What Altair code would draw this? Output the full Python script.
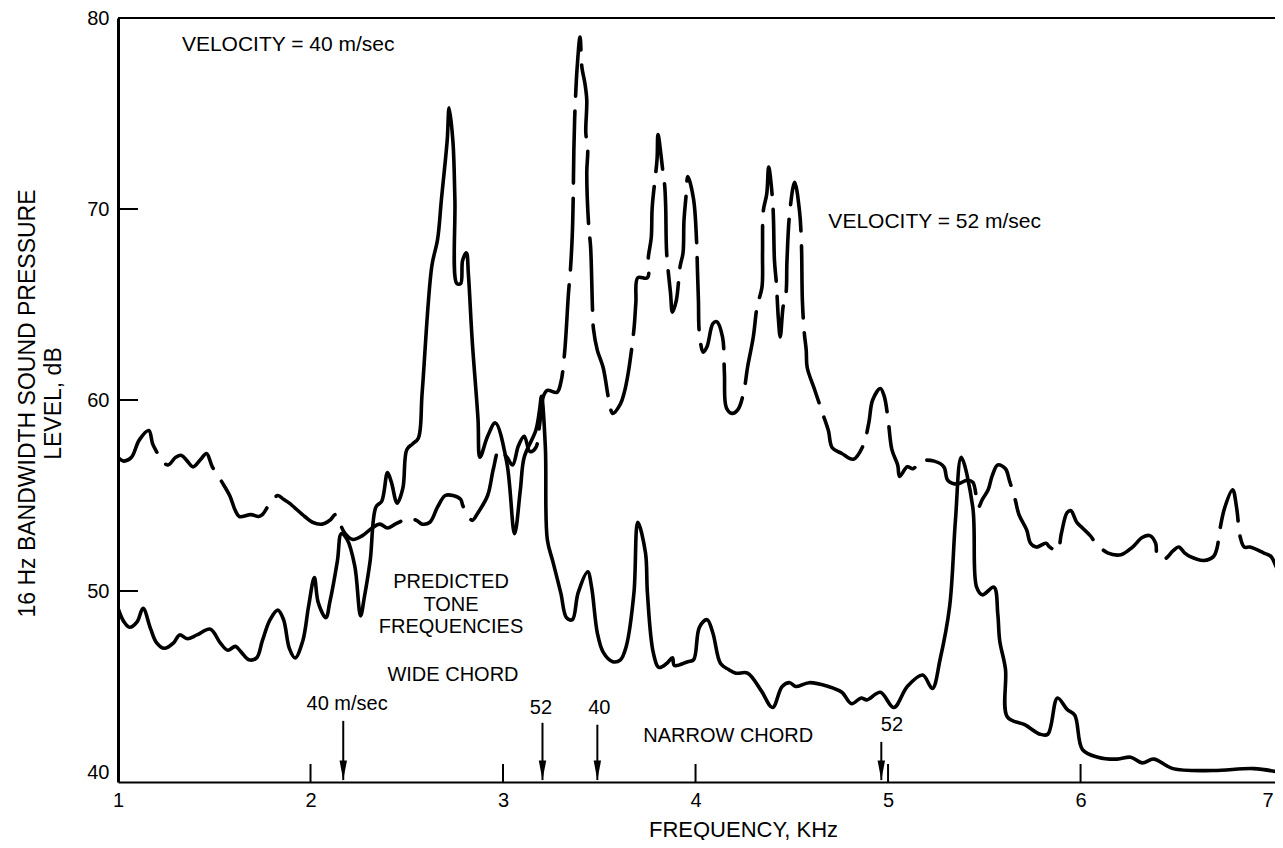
import altair as alt
import pandas as pd

FONT = "Liberation Sans"
W, H = 1157, 764
XMAX = 7.01

# ---- 40 m/sec spectrum (solid) ----
solid_khz = [
    1.00, 1.03, 1.06, 1.10, 1.13, 1.17, 1.20, 1.24, 1.29, 1.32,
    1.36, 1.41, 1.48, 1.53, 1.57, 1.61, 1.64, 1.68, 1.72, 1.75,
    1.79, 1.83, 1.86, 1.89, 1.92, 1.96, 1.99, 2.02, 2.04, 2.08,
    2.10, 2.14, 2.16, 2.19, 2.23, 2.26, 2.28, 2.31, 2.34, 2.37,
    2.40, 2.42, 2.45, 2.48, 2.50, 2.53, 2.56, 2.58, 2.63, 2.66,
    2.68, 2.71, 2.72, 2.74, 2.75, 2.76, 2.78, 2.79, 2.81, 2.82,
    2.84, 2.87, 2.88, 2.92, 2.96, 3.02, 3.06, 3.09, 3.11, 3.17,
    3.19, 3.20, 3.22, 3.23, 3.26, 3.30, 3.33, 3.36, 3.39, 3.44,
    3.46, 3.49, 3.52, 3.57, 3.61, 3.64, 3.68, 3.70, 3.74, 3.75,
    3.78, 3.81, 3.85, 3.88, 3.89, 3.96, 3.99, 4.02, 4.06, 4.09,
    4.13, 4.17, 4.21, 4.27, 4.34, 4.40, 4.45, 4.49, 4.52, 4.59,
    4.69, 4.76, 4.81, 4.86, 4.89, 4.96, 5.03, 5.10, 5.18, 5.23,
    5.27, 5.32, 5.35, 5.38, 5.44, 5.46, 5.49, 5.55, 5.57, 5.58,
    5.61, 5.62, 5.71, 5.79, 5.83, 5.88, 5.93, 5.97, 6.01, 6.09,
    6.19, 6.26, 6.32, 6.38, 6.48, 6.69, 6.90, 7.04,
]
solid_db = [
    49.1, 48.4, 48.1, 48.4, 49.1, 48.0, 47.3, 47.0, 47.3, 47.7,
    47.5, 47.7, 48.0, 47.3, 46.9, 47.1, 46.8, 46.4, 46.5, 47.4,
    48.5, 49.0, 48.5, 47.0, 46.5, 47.4, 49.2, 50.7, 49.4, 48.6,
    49.4, 51.6, 53.0, 52.7, 51.3, 48.7, 49.7, 51.6, 54.4, 54.7,
    56.2, 55.7, 54.6, 55.4, 57.4, 57.7, 58.0, 60.4, 67.0, 68.4,
    70.5, 73.6, 75.3, 73.5, 70.5, 66.1, 66.1, 67.3, 67.7, 66.6,
    63.1, 59.0, 57.0, 58.1, 58.8, 56.7, 53.0, 55.3, 57.0, 58.4,
    59.5, 60.2, 57.5, 52.7, 51.5, 49.9, 48.6, 48.5, 49.9, 51.0,
    50.2, 47.8, 46.8, 46.3, 46.4, 47.1, 49.9, 53.6, 52.0, 49.9,
    46.8, 46.0, 46.2, 46.5, 46.1, 46.3, 46.4, 48.1, 48.5, 47.8,
    46.2, 45.9, 45.7, 45.7, 44.8, 43.9, 45.0, 45.2, 45.0, 45.2,
    45.0, 44.7, 44.1, 44.4, 44.3, 44.7, 43.9, 45.0, 45.6, 44.9,
    46.4, 49.2, 53.7, 57.0, 54.4, 50.2, 49.8, 50.2, 48.8, 47.4,
    45.9, 43.4, 43.0, 42.5, 42.5, 44.4, 43.8, 43.5, 41.7, 41.3,
    41.2, 41.3, 41.0, 41.2, 40.7, 40.6, 40.7, 40.5,
]

# ---- 52 m/sec spectrum (dashed) ----
dashed_khz = [
    1.00, 1.03, 1.07, 1.11, 1.16, 1.18, 1.20, 1.23, 1.26, 1.30,
    1.33, 1.36, 1.39, 1.43, 1.46, 1.49, 1.54, 1.58, 1.61, 1.63,
    1.69, 1.73, 1.75, 1.79, 1.83, 1.86, 1.89, 1.97, 2.01, 2.06,
    2.10, 2.13, 2.15, 2.18, 2.22, 2.27, 2.32, 2.36, 2.40, 2.44,
    2.51, 2.55, 2.58, 2.62, 2.66, 2.70, 2.74, 2.78, 2.79, 2.81,
    2.84, 2.87, 2.92, 2.95, 2.98, 3.02, 3.05, 3.08, 3.11, 3.14,
    3.17, 3.19, 3.21, 3.23, 3.28, 3.30, 3.32, 3.34, 3.35, 3.36,
    3.364, 3.368, 3.372, 3.376, 3.385, 3.40, 3.41, 3.425, 3.435, 3.43,
    3.44, 3.435, 3.445, 3.455, 3.465, 3.47, 3.49, 3.52, 3.55, 3.57,
    3.61, 3.63, 3.65, 3.68, 3.69, 3.70, 3.75, 3.755, 3.77, 3.775,
    3.80, 3.805, 3.83, 3.84, 3.845, 3.85, 3.87, 3.88, 3.90, 3.92,
    3.935, 3.94, 3.95, 3.96, 3.99, 4.005, 4.01, 4.015, 4.02, 4.04,
    4.06, 4.09, 4.11, 4.14, 4.15, 4.16, 4.19, 4.22, 4.25, 4.27,
    4.30, 4.32, 4.345, 4.348, 4.352, 4.37, 4.38, 4.40, 4.405, 4.41,
    4.42, 4.43, 4.44, 4.455, 4.47, 4.475, 4.49, 4.515, 4.54, 4.55,
    4.555, 4.565, 4.575, 4.58, 4.62, 4.66, 4.69, 4.71, 4.76, 4.82,
    4.87, 4.90, 4.92, 4.96, 4.98, 5.00, 5.02, 5.05, 5.06, 5.10,
    5.13, 5.17, 5.24, 5.29, 5.31, 5.36, 5.41, 5.44, 5.47, 5.49,
    5.52, 5.54, 5.57, 5.61, 5.63, 5.66, 5.68, 5.72, 5.74, 5.77,
    5.82, 5.84, 5.88, 5.90, 5.93, 5.95, 5.98, 6.01, 6.05, 6.08,
    6.14, 6.21, 6.27, 6.32, 6.36, 6.39, 6.40, 6.44, 6.48, 6.51,
    6.54, 6.57, 6.64, 6.69, 6.71, 6.72, 6.75, 6.79, 6.81, 6.83,
    6.85, 6.88, 6.95, 6.99, 7.02, 7.05,
]
dashed_db = [
    57.0, 56.8, 57.0, 57.9, 58.4, 57.7, 57.3, 56.8, 56.6, 57.0,
    57.1, 56.8, 56.5, 56.9, 57.2, 56.5, 55.7, 55.0, 54.2, 53.9,
    54.0, 53.9, 54.0, 54.6, 55.0, 54.8, 54.6, 53.9, 53.6, 53.5,
    53.7, 54.0, 53.6, 53.0, 52.7, 52.9, 53.3, 53.5, 53.3, 53.5,
    53.8, 53.7, 53.5, 53.6, 54.4, 55.0, 55.0, 54.8, 54.5, 54.1,
    53.7, 54.1, 55.0, 56.4, 57.4, 57.0, 56.6, 57.6, 58.1, 57.3,
    57.5, 58.7, 60.2, 60.5, 60.4, 60.9, 62.5, 65.6, 66.8, 68.7,
    70.3, 73.1, 74.7, 75.7, 77.4, 79.0, 77.4, 76.6, 75.7, 74.0,
    73.1, 71.9, 69.1, 68.0, 64.7, 63.7, 62.6, 61.7, 60.0, 59.3,
    59.8, 60.4, 61.4, 63.7, 65.1, 66.4, 66.4, 67.5, 68.5, 70.1,
    72.6, 73.9, 72.0, 71.2, 70.1, 67.7, 65.6, 64.6, 65.2, 67.0,
    67.7, 69.4, 70.6, 71.7, 70.5, 68.4, 66.8, 65.2, 63.5, 62.5,
    62.8, 64.0, 64.1, 63.3, 61.4, 59.6, 59.3, 59.5, 60.4, 61.7,
    63.3, 64.9, 65.9, 67.7, 69.9, 70.8, 72.2, 70.5, 69.4, 67.3,
    66.1, 64.3, 63.3, 64.9, 65.6, 67.3, 69.9, 71.4, 69.9, 68.2,
    65.2, 63.5, 62.6, 61.7, 60.5, 59.3, 58.4, 57.5, 57.2, 56.9,
    57.6, 58.8, 60.0, 60.6, 60.2, 59.0, 57.4, 56.6, 56.0, 56.5,
    56.4, 56.8, 56.8, 56.5, 55.8, 55.6, 55.8, 55.7, 54.4, 54.8,
    55.3, 56.0, 56.6, 56.4, 55.8, 54.8, 54.0, 53.2, 52.5, 52.3,
    52.5, 52.3, 52.1, 53.0, 54.1, 54.2, 53.6, 53.3, 52.9, 52.5,
    52.0, 51.9, 52.3, 52.8, 52.9, 52.5, 51.8, 51.7, 52.1, 52.3,
    52.0, 51.8, 51.6, 51.8, 52.3, 53.0, 54.4, 55.3, 54.4, 52.8,
    52.3, 52.3, 52.0, 51.8, 51.2, 50.9,
]

# ---- axes / ticks ----
x_tick_values = [1, 2, 3, 4, 5, 6, 7]
y_tick_values = [40, 50, 60, 70, 80]
inner_x_ticks = [2, 3, 4, 5, 6]
inner_y_ticks = [50, 60, 70]
top_border_db = [80]

# ---- predicted tone frequency arrows ----
arrow_khz = [2.17, 3.205, 3.49, 4.965]
arrow_top_db = [43.2, 43.1, 43.0, 42.1]
arrow_tip_db = [40.1, 40.1, 40.1, 40.1]

# ---- annotations ----
velocity_text = ["VELOCITY = 40 m/sec", "VELOCITY = 52 m/sec"]
velocity_khz = [1.332, 4.69]
velocity_db = [78.6, 69.3]

label_text = ["PREDICTED", "TONE", "FREQUENCIES", "WIDE CHORD",
              "40 m/sec", "52", "40", "NARROW CHORD", "52"]
label_khz = [2.73, 2.73, 2.73, 2.74, 2.19, 3.197, 3.50, 4.17, 5.02]
label_db = [50.45, 49.25, 48.1, 45.6, 44.1, 43.9, 43.9, 42.4, 43.0]

# ---- build tables ----
solid = pd.DataFrame({"khz": solid_khz, "db": solid_db, "i": range(len(solid_khz))})
dashed = pd.DataFrame({"khz": dashed_khz, "db": dashed_db, "i": range(len(dashed_khz))})
xt = pd.DataFrame({"khz": inner_x_ticks})
yt = pd.DataFrame({"db": inner_y_ticks})
top = pd.DataFrame({"db": top_border_db})
arrows = pd.DataFrame({"khz": arrow_khz, "top": arrow_top_db, "tip": arrow_tip_db})
vel = pd.DataFrame({"text": velocity_text, "khz": velocity_khz, "db": velocity_db})
lab = pd.DataFrame({"text": label_text, "khz": label_khz, "db": label_db})

xscale = alt.Scale(domain=[1, XMAX], nice=False, zero=False)
yscale = alt.Scale(domain=[40, 80], nice=False, zero=False)

x_axis = alt.Axis(
    values=x_tick_values, ticks=False, grid=False,
    domainColor="black", domainWidth=2,
    labelFont=FONT, labelFontSize=20, labelColor="black",
    labelPadding=8, labelFlush=False,
    labelAlign={"condition": {"test": "datum.value === 7", "value": "right"}, "value": "center"},
    title="FREQUENCY, KHz", titleFont=FONT, titleFontSize=22,
    titleFontWeight="normal", titleColor="black",
    titleX=625, titleY=54, titleAlign="center", titleBaseline="alphabetic",
)
y_axis = alt.Axis(
    values=y_tick_values, ticks=False, grid=False,
    domainColor="black", domainWidth=3,
    labelFont=FONT, labelFontSize=20, labelColor="black",
    labelPadding=9, labelFlush=False,
    labelBaseline={"condition": {"test": "datum.value === 40", "value": "bottom"}, "value": "middle"},
    title=["16 Hz BANDWIDTH SOUND PRESSURE", "LEVEL, dB"],
    titleFont=FONT, titleFontSize=23, titleFontWeight="normal",
    titleColor="black", titleLineHeight=26, titleAngle=270,
    titleX=-91, titleY=385, titleAlign="center", titleBaseline="middle",
)


def X(field):
    return alt.X(field, scale=xscale, axis=x_axis)


def Y(field):
    return alt.Y(field, scale=yscale, axis=y_axis)


solid_line = alt.Chart(solid).mark_line(
    color="black", strokeWidth=3.6, clip=True, interpolate="catmull-rom",
    strokeJoin="round", strokeCap="round",
).encode(x=X("khz:Q"), y=Y("db:Q"), order="i:Q")

dashed_line = alt.Chart(dashed).mark_line(
    color="black", strokeWidth=3.6, clip=True, strokeDash=[72, 15],
    interpolate="catmull-rom", strokeJoin="round", strokeCap="round",
).encode(x=X("khz:Q"), y=Y("db:Q"), order="i:Q")

x_ticks = alt.Chart(xt).mark_rule(color="black", strokeWidth=2).encode(
    x=X("khz:Q"), y=alt.value(H), y2=alt.value(H - 18),
)
y_ticks = alt.Chart(yt).mark_rule(color="black", strokeWidth=2).encode(
    y=Y("db:Q"), x=alt.value(0), x2=alt.value(20),
)
top_rule = alt.Chart(top).mark_rule(color="black", strokeWidth=2).encode(
    y=Y("db:Q"), x=alt.value(0), x2=alt.value(W),
)

arrow_shaft = alt.Chart(arrows).mark_rule(color="black", strokeWidth=2).encode(
    x=X("khz:Q"), y=Y("top:Q"), y2="tip:Q",
)
arrow_head = alt.Chart(arrows).mark_point(
    shape="M-0.38,-2L0.38,-2L0,0Z", filled=True, size=380,
    color="black", opacity=1, strokeWidth=0,
).encode(x=X("khz:Q"), y=Y("tip:Q"))

vel_text = alt.Chart(vel).mark_text(
    align="left", baseline="middle", font=FONT, fontSize=21, color="black"
).encode(x=X("khz:Q"), y=Y("db:Q"), text="text:N")

lab_text = alt.Chart(lab).mark_text(
    align="center", baseline="middle", font=FONT, fontSize=20, color="black"
).encode(x=X("khz:Q"), y=Y("db:Q"), text="text:N")

chart = alt.layer(
    solid_line, dashed_line, top_rule, x_ticks, y_ticks,
    arrow_shaft, arrow_head, vel_text, lab_text,
).properties(
    width=W, height=H,
    autosize=alt.AutoSizeParams(type="none"),
    padding={"left": 110, "top": 10, "right": 0, "bottom": 58},
    background="white",
).configure_view(stroke=None)

chart.save("out.html", embed_options={"renderer": "svg", "actions": False})
